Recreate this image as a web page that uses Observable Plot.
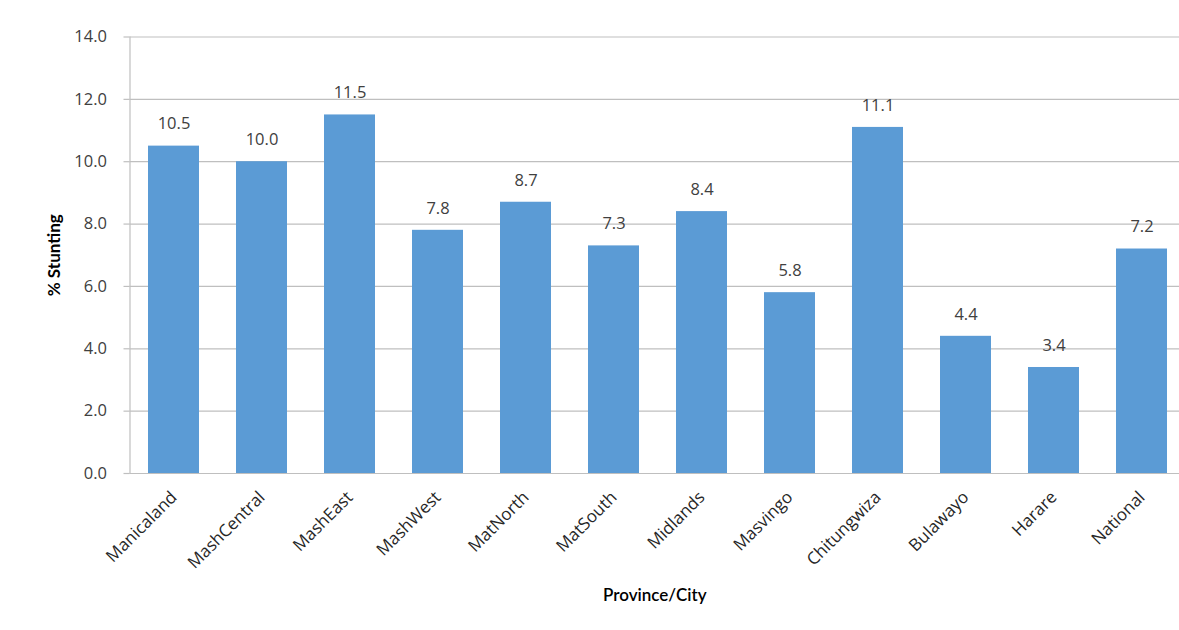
<!DOCTYPE html>
<html>
<head>
<meta charset="utf-8">
<script src="https://cdn.jsdelivr.net/npm/d3@7"></script>
<script src="https://cdn.jsdelivr.net/npm/@observablehq/plot@0.6"></script>
<style>
  html, body { margin: 0; padding: 0; background: #ffffff; }
  #chart svg {
    display: block;
    background: linear-gradient(to right, #fef6f3 9px, transparent 9px), linear-gradient(to bottom, #fef6f3 9px, #ffffff 9px);
  }
</style>
</head>
<body>
<div id="chart"></div>
<script>
const categories = ["Manicaland", "MashCentral", "MashEast", "MashWest", "MatNorth", "MatSouth", "Midlands", "Masvingo", "Chitungwiza", "Bulawayo", "Harare", "National"];
const values = [10.5, 10.0, 11.5, 7.8, 8.7, 7.3, 8.4, 5.8, 11.1, 4.4, 3.4, 7.2];
const yTicks = [0, 2, 4, 6, 8, 10, 12, 14];
const yTitle = "% Stunting";
const xTitle = "Province/City";

const data = categories.map((c, i) => ({category: c, value: values[i]}));

const font = "'Open Sans', 'DejaVu Sans', sans-serif";
const titleFont = "Lato, 'Open Sans', sans-serif";

const chart = Plot.plot({
  width: 1179,
  height: 630,
  marginLeft: 129.5,
  marginRight: 0,
  marginTop: 36.5,
  marginBottom: 157,
  style: {fontFamily: font, fontSize: "16px", color: "#404040", background: "transparent"},
  x: {domain: categories, range: [129.5, 1186], paddingInner: 0.42, paddingOuter: 0.21},
  y: {domain: [0, 14]},
  marks: [
    Plot.gridY(yTicks, {stroke: "#bfbfbf", strokeOpacity: 1, strokeWidth: 1.2}),
    Plot.frame({anchor: "left", stroke: "#bfbfbf", strokeOpacity: 1, strokeWidth: 1.2}),
    Plot.barY(data, {x: "category", y: "value", fill: "#5b9bd5"}),
    Plot.text(data, {x: "category", y: "value", text: d => d.value.toFixed(1), dy: -22, fontSize: 16.5, fill: "#404040"}),
    Plot.axisY(yTicks, {tickFormat: d => d.toFixed(1), tickSize: 6, tickPadding: 17, stroke: "#bfbfbf", strokeWidth: 1.2, fill: "#404040", fontSize: 16.5, label: null}),
    Plot.axisX({tickSize: 0, tickPadding: 21, tickRotate: -45, dx: 0, fontSize: 17, fill: "#262626", label: null}),
    Plot.text([yTitle], {frameAnchor: "left", textAnchor: "middle", dx: -75, rotate: -90, fontFamily: titleFont, fontWeight: "bold", fontSize: 17, fill: "#000"}),
    Plot.text([xTitle], {frameAnchor: "bottom", dy: 127, fontFamily: titleFont, fontWeight: 600, fontSize: 17, fill: "#000"})
  ]
});
document.getElementById("chart").appendChild(chart);
</script>
</body>
</html>
